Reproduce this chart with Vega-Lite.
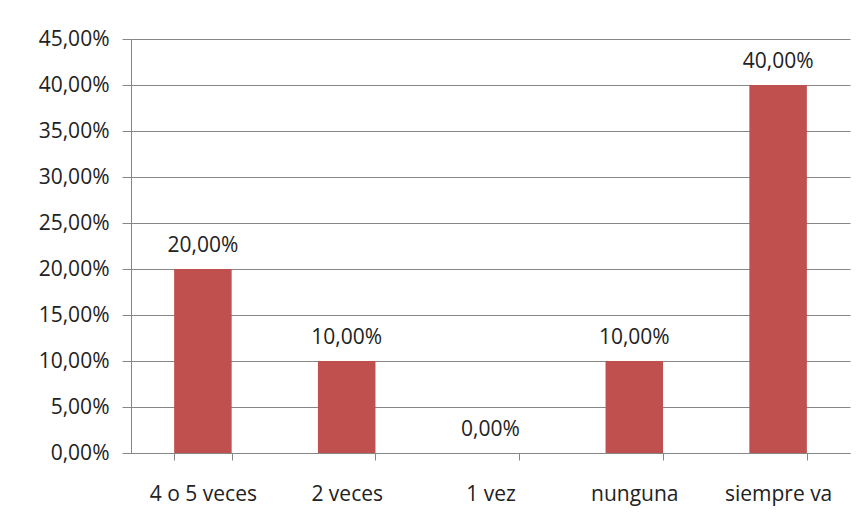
{
  "$schema": "https://vega.github.io/schema/vega-lite/v6.json",
  "autosize": {"type": "none"},
  "padding": {"left": 131, "top": 39, "right": 17, "bottom": 73},
  "width": 719,
  "height": 414,
  "background": "white",
  "data": {
    "values": [
      {"categoria": "4 o 5 veces", "porcentaje": 0.20},
      {"categoria": "2 veces", "porcentaje": 0.10},
      {"categoria": "1 vez", "porcentaje": 0.0},
      {"categoria": "nunguna", "porcentaje": 0.10},
      {"categoria": "siempre va", "porcentaje": 0.40}
    ]
  },
  "encoding": {
    "x": {
      "field": "categoria", "type": "nominal", "sort": null,
      "scale": {"paddingInner": 0.6, "paddingOuter": 0.3},
      "axis": {
        "title": null, "labelAngle": 0, "tickBand": "extent", "grid": false,
        "domainColor": "#868686", "tickColor": "#868686", "tickSize": 7,
        "labelPadding": 23, "labelFontSize": 21, "labelFont": "Open Sans", "labelColor": "#222222"
      }
    },
    "y": {
      "field": "porcentaje", "type": "quantitative",
      "scale": {"domain": [0, 0.45], "nice": false},
      "axis": {
        "title": null, "format": ".2%", "values": [0, 0.05, 0.1, 0.15, 0.2, 0.25, 0.3, 0.35, 0.4, 0.45],
        "grid": true, "gridColor": "#868686", "domainColor": "#868686", "tickColor": "#868686",
        "tickSize": 9, "labelPadding": 13, "labelFontSize": 21, "labelFont": "Open Sans", "labelColor": "#222222"
      }
    }
  },
  "layer": [
    {"mark": {"type": "bar", "color": "#C0504D"}},
    {
      "mark": {"type": "text", "baseline": "alphabetic", "dy": -17, "fontSize": 21, "font": "Open Sans", "color": "#222222"},
      "encoding": {"text": {"field": "porcentaje", "type": "quantitative", "format": ".2%"}}
    }
  ],
  "config": {
    "view": {"stroke": null},
    "locale": {"number": {"decimal": ",", "thousands": ".", "grouping": [3], "currency": ["", " €"]}}
  }
}
